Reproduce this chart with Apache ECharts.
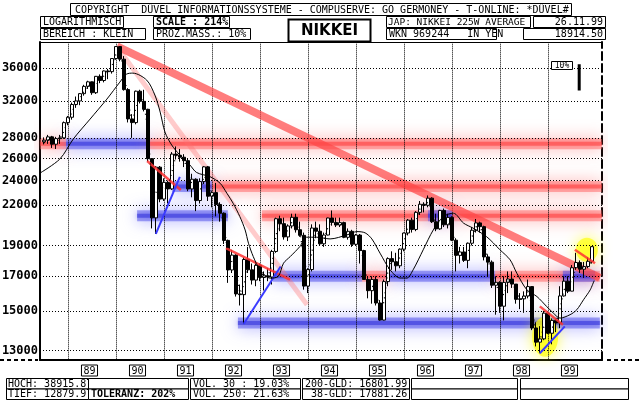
<!DOCTYPE html>
<html><head><meta charset="utf-8">
<script src="https://cdn.jsdelivr.net/npm/echarts@6.0.0/dist/echarts.min.js"></script>
<style>html,body{margin:0;padding:0;background:#fff;}#chart{width:640px;height:400px;}</style>
</head><body><div id="chart"></div>
<script>
// ---------- DATA ----------
const months = [
'1988-06','1988-07','1988-08','1988-09','1988-10','1988-11','1988-12',
'1989-01','1989-02','1989-03','1989-04','1989-05','1989-06','1989-07','1989-08','1989-09','1989-10','1989-11','1989-12',
'1990-01','1990-02','1990-03','1990-04','1990-05','1990-06','1990-07','1990-08','1990-09','1990-10','1990-11','1990-12',
'1991-01','1991-02','1991-03','1991-04','1991-05','1991-06','1991-07','1991-08','1991-09','1991-10','1991-11','1991-12',
'1992-01','1992-02','1992-03','1992-04','1992-05','1992-06','1992-07','1992-08','1992-09','1992-10','1992-11','1992-12',
'1993-01','1993-02','1993-03','1993-04','1993-05','1993-06','1993-07','1993-08','1993-09','1993-10','1993-11','1993-12',
'1994-01','1994-02','1994-03','1994-04','1994-05','1994-06','1994-07','1994-08','1994-09','1994-10','1994-11','1994-12',
'1995-01','1995-02','1995-03','1995-04','1995-05','1995-06','1995-07','1995-08','1995-09','1995-10','1995-11','1995-12',
'1996-01','1996-02','1996-03','1996-04','1996-05','1996-06','1996-07','1996-08','1996-09','1996-10','1996-11','1996-12',
'1997-01','1997-02','1997-03','1997-04','1997-05','1997-06','1997-07','1997-08','1997-09','1997-10','1997-11','1997-12',
'1998-01','1998-02','1998-03','1998-04','1998-05','1998-06','1998-07','1998-08','1998-09','1998-10','1998-11','1998-12',
'1999-01','1999-02','1999-03','1999-04','1999-05','1999-06','1999-07','1999-08','1999-09','1999-10','1999-11'
];
const opens = [
27600,27769,28101,27366,27924,28000,29579,
30159,31581,31986,32839,33713,34267,32949,34954,34431,35637,35549,37269,
38916,37189,33322,29980,29585,33131,31940,31036,25978,20984,25194,22455,
23849,23293,26409,26292,26111,25790,23291,24121,22336,23916,25222,22687,
22984,22023,21339,19346,17391,18348,15952,15910,18061,17399,16767,17684,
16925,17024,16953,18591,20919,20552,19591,20380,21027,20106,19703,16408,
17417,20229,19997,19112,19725,20974,20644,20449,20629,19564,19990,19076,
19723,18650,16807,16140,16807,15437,14517,16678,18117,17913,17655,18744,
19868,20813,20125,21407,22041,21956,22531,20693,20167,21556,20467,21020,
19361,18330,18557,18003,19151,20069,20605,20331,18229,17888,16459,16636,
15259,16628,16831,16527,15641,15671,15830,16379,14108,13406,13565,14883,
13842,14499,14368,15837,16702,16112,17530,17862,17437,17605,17943
];
const closes = [
27769,28101,27366,27924,28000,29579,30159,
31581,31986,32839,33713,34267,32949,34954,34431,35637,35549,37269,38916,
37189,33322,29980,29585,33131,31940,31036,25978,20984,25194,22455,23849,
23293,26409,26292,26111,25790,23291,24121,22336,23916,25222,22687,22984,
22023,21339,19346,17391,18348,15952,15910,18061,17399,16767,17684,16925,
17024,16953,18591,20919,20552,19591,20380,21027,20106,19703,16408,17417,
20229,19997,19112,19725,20974,20644,20449,20629,19564,19990,19076,19723,
18650,16807,16140,16807,15437,14517,16678,18117,17913,17655,18744,19868,
20813,20125,21407,22041,21956,22531,20693,20167,21556,20467,21020,19361,
18330,18557,18003,19151,20069,20605,20331,18229,17888,16459,16636,15259,
16628,16831,16527,15641,15671,15830,16379,14108,13406,13565,14883,13842,
14499,14368,15837,16702,16112,17530,17862,17437,17605,17943,18914
];
const lows = [
27350,27400,27000,26900,27400,27900,29300,
29900,31200,31500,32600,33400,32700,32800,34100,34200,34600,35300,37100,
36900,33200,29600,28000,29400,31700,30800,25700,20200,19800,22200,22300,
22100,23200,25900,25700,25200,23100,22600,21500,22100,23700,22300,21800,
21100,20700,19100,16600,17200,15800,15300,14309,17200,16500,16400,16700,
16150,16700,16500,18500,20000,19400,19300,20200,19900,19600,16200,16000,
17300,19500,19000,18900,19700,20400,20300,20300,19500,19400,18900,19000,
17800,16800,15700,15400,15300,14485,14500,16400,17400,17300,17500,18600,
19700,19900,20000,21200,21400,21800,20600,20000,20100,20300,20200,19300,
17300,17800,17900,17500,19000,19900,19900,18000,17000,16300,14800,14900,
14500,16000,16300,15400,15100,14900,15700,14000,13200,12880,13500,13800,
13300,13900,14100,15800,16000,16100,17400,17200,16900,17500,17800
];
const highs = [
28050,28300,28200,28100,28300,29700,30300,
31800,32500,32900,33900,34400,34300,35000,35200,35700,35900,37300,38960,
38960,37600,33500,30500,33200,33300,33300,31100,26000,25300,25300,24200,
24000,26600,27150,26900,26400,26000,24600,24200,24200,25300,25300,23100,
23800,22200,21400,19400,18700,18400,16500,18200,18900,17800,17900,17800,
17300,17500,18700,21000,21150,21000,20500,21300,21300,20700,19900,17500,
20500,20700,20500,19900,21000,21550,21000,21000,20700,20200,20100,19800,
19800,18700,17000,17000,17000,15600,16800,18200,18600,18500,18800,19900,
20900,21000,21500,22300,22200,22750,22600,21300,21600,21700,21300,21100,
19500,18900,18900,19200,20300,20900,20700,20400,18400,18000,17000,16700,
17000,17300,17300,16500,16000,16100,16800,16400,14400,14200,15000,14900,
14600,14600,16400,17000,17000,17700,18500,18000,17900,18200,18950
];
// 38-day average (dotted), read at month ends
const ma38 = [
27500,27800,27700,27600,27900,28700,29700,
30800,31600,32300,33100,33900,33600,33800,34600,35000,35500,36300,37900,
38200,35500,32000,29600,31200,32600,31600,28800,23500,23000,23800,23200,
23500,24800,26300,26300,26000,24600,23700,23300,23100,24400,24000,22800,
22500,21700,20400,18400,17900,17200,16000,16500,17700,17100,17200,17300,
17000,17000,17700,19700,20700,20100,20000,20700,20600,19900,18100,16900,
18600,20100,19600,19400,20300,20800,20550,20550,20100,19800,19500,19400,
19200,17800,16500,16450,16100,15000,15500,17400,18000,17800,18200,19300,
20300,20500,20700,21700,22000,22200,21600,20400,20800,21000,20700,20200,
18800,18400,18300,18500,19600,20300,20500,19300,18000,17200,16500,16000,
15900,16700,16700,16100,15650,15700,16100,15300,13800,13500,14200,14400,
14100,14400,15100,16200,16400,16800,17700,17650,17500,17750,17881
];
// 200-day average (solid)
const ma200Dates = [1988.42,1988.83,1989.11,1989.46,1989.81,1990.08,1990.22,1990.35,1990.64,1990.81,1990.92,1991.02,1991.16,1991.33,1991.54,1991.68,1991.96,1992.17,1992.31,1992.44,1992.58,1992.69,1992.76,1992.86,1993.0,1993.21,1993.38,1993.49,1993.63,1993.83,1993.97,1994.18,1994.46,1994.81,1995.02,1995.19,1995.33,1995.5,1995.71,1995.92,1996.06,1996.19,1996.4,1996.61,1996.82,1997.03,1997.24,1997.44,1997.72,1998.0,1998.21,1998.35,1998.56,1998.77,1998.97,1999.11,1999.25,1999.46,1999.6,1999.74,1999.88,1999.96];
const ma200Values = [24670,25940,27880,29960,32200,34230,35230,35360,34480,32670,30730,28590,27290,26320,25390,24710,24340,23770,22930,22120,21080,20090,19150,18250,17400,16890,16990,17820,18250,18920,19570,19570,19450,19730,19970,19880,19450,18480,17400,16890,16890,17400,18700,20090,21080,21340,20590,20220,19610,18700,18040,17190,16190,15800,15250,14890,14620,14800,15070,15620,16190,16730];

const yTicks = [13000,15000,17000,19000,22000,24000,26000,28000,32000,36000];
const yearLines = [1989,1990,1991,1992,1993,1994,1995,1996,1997,1998,1999];
const yearLabels = ['89','90','91','92','93','94','95','96','97','98','99'];

// support / resistance zones
const bandFrom  = [1988.42,1988.96,1990.71,1991.17,1992.0,1990.44,1993.04,1996.5,1993.27,1995.13,1995.67,1997.9,1999.31,1992.54];
const bandTo    = [1988.96,1990.71,2000.12,1992.0,2000.12,1992.33,2000.12,1997.0,1995.13,1995.67,1997.9,2000.08,1999.98,2000.08];
const bandLevel = [27400,27400,27400,23500,23500,21150,21150,21150,17000,17000,17000,17000,17000,14370];
const bandKind  = ['red','blue','red','blue','red','blue','red','blue','blue','red','blue','red','blue','blue'];

// trend lines [t0, v0, t1, v1]
const mainTrend  = [1990.02,38960,2000.08,16900];
const lightTrend = [1990.04,38690,1993.98,15340];
const redTrends  = [[1990.65,25760,1991.35,23200],[1992.29,18810,1993.625,16790],[1998.83,15250,1999.31,14270],[1999.56,18700,1999.98,17820]];
const blueTrends = [[1990.83,19800,1991.33,24320],[1992.66,14309,1993.43,17610],[1998.83,12880,1999.35,14190]];
const highlights = [[1998.94,13670],[1999.81,18700]];
const scaleBar = [1999.65,36520,33200];

// ---------- BUILD ----------
const toT = s => Number(s.slice(0,4)) + Number(s.slice(5,7))/12;
const candleData = months.map((m,i)=>[toT(m), opens[i], closes[i], lows[i], highs[i]]);
const ma38Data = months.map((m,i)=>[toT(m), ma38[i]]);
const ma200Data = ma200Dates.map((t,i)=>[t, ma200Values[i]]);

const X_MIN = 1988.4167, X_MAX = 2000.125, Y_MIN = 12570, Y_MAX = 39560;
const HALF_PX = 0.5/48; // keeps 1px dotted lines on a pixel column
const MONO = '"DejaVu Sans Mono", monospace';

const bandColors = {
  red: {c:'rgba(255,105,105,0.5)', s:'rgba(255,110,110,1)', core:'rgba(255,60,60,0.55)'},
  blue:{c:'rgba(85,85,235,0.52)', s:'rgba(100,100,255,1)', core:'rgba(55,55,220,0.6)'}
};
const series = [];
bandFrom.forEach((f,i)=>{
  const bc = bandColors[bandKind[i]];
  const d = [[f,bandLevel[i]],[bandTo[i],bandLevel[i]]];
  series.push({type:'line', data:d, symbol:'none', silent:true, z:1,
    lineStyle:{width:11, color:bc.c, shadowBlur:16, shadowColor:bc.s}});
  series.push({type:'line', data:d, symbol:'none', silent:true, z:1,
    lineStyle:{width:4, color:bc.core, shadowBlur:4, shadowColor:bc.core}});
});
highlights.forEach((p,i)=>{
  series.push({type:'scatter', data:[p], symbol:'circle', symbolSize: i===0?[26,40]:[22,24], silent:true, z:2,
    itemStyle:{color:'rgba(255,255,0,0.8)', shadowBlur:14, shadowColor:'rgba(255,255,0,1)'}});
});
// horizontal grid + left labels
series.push({type:'line', data:[], symbol:'none', z:3, silent:true,
  markLine:{silent:true, symbol:['none','none'], animation:false,
    lineStyle:{color:'#000', type:[1,2], width:1},
    label:{position:'start', distance:2, color:'#000', fontFamily:MONO, fontWeight:'bold', fontSize:12, formatter:p=>String(p.value)},
    data: yTicks.map(v=>({yAxis:v}))}
});
// right labels
series.push({type:'line', data:[], symbol:'none', z:3, silent:true,
  markLine:{silent:true, symbol:['none','none'], animation:false,
    lineStyle:{opacity:0},
    label:{position:'end', distance:0, color:'#000', fontFamily:MONO, fontWeight:'bold', fontSize:12, formatter:p=>String(p.value)},
    data: yTicks.map(v=>({yAxis:v}))}
});
// vertical year grid lines (one short series per year boundary)
yearLines.forEach(y=>series.push({type:'line', data:[[y+HALF_PX,12600],[y+HALF_PX,39450]], symbol:'none', silent:true, z:3, clip:false,
  lineStyle:{color:'#000', type:'dotted', width:1}}));
// trend lines
series.push({type:'line', data:[[mainTrend[0],mainTrend[1]],[mainTrend[2],mainTrend[3]]], symbol:'none', silent:true, z:4,
  lineStyle:{width:8, color:'rgba(255,70,70,0.7)'}});
series.push({type:'line', data:[[lightTrend[0],lightTrend[1]],[lightTrend[2],lightTrend[3]]], symbol:'none', silent:true, z:4,
  lineStyle:{width:5, color:'rgba(255,110,110,0.35)'}});
redTrends.forEach(r=>series.push({type:'line', data:[[r[0],r[1]],[r[2],r[3]]], symbol:'none', silent:true, z:6,
  lineStyle:{width:2.5, color:'rgba(255,50,50,0.85)'}}));
blueTrends.forEach(r=>series.push({type:'line', data:[[r[0],r[1]],[r[2],r[3]]], symbol:'none', silent:true, z:6,
  lineStyle:{width:2, color:'#3a3aff'}}));
// candles
series.push({type:'candlestick', data:candleData, barWidth:3, z:5, silent:true,
  itemStyle:{color:'#fff', color0:'#000', borderColor:'#000', borderColor0:'#000', borderWidth:1}});
// averages
series.push({type:'line', data:ma200Data, symbol:'none', smooth:0.3, silent:true, z:7,
  lineStyle:{width:1, color:'#000'}});
series.push({type:'line', data:ma38Data, symbol:'none', silent:true, z:7,
  lineStyle:{width:1.3, color:'#000', type:[1,4]}});
// 10% scale bar
series.push({type:'line', data:[[scaleBar[0],scaleBar[1]],[scaleBar[0],scaleBar[2]]], symbol:'none', silent:true, z:7,
  lineStyle:{width:3, color:'#000'}});

// header / footer boxes
const g = [];
let zc = 10;
function box(x,y,w,h,lw){ g.push({type:'rect', z:zc++, shape:{x:x,y:y,width:w,height:h}, style:{fill:'#fff', stroke:'#000', lineWidth:lw||1}}); }
function txt(x,y,s,opt){ opt=opt||{}; g.push({type:'text', z:zc++, x:x, y:y, style:{text:s, font:(opt.bold?'bold ':'')+(opt.size||10)+'px '+(opt.fam||MONO), fill:'#000', align:opt.align||'left', verticalAlign:'middle'}}); }
box(70.5,3.5,501,12); txt(75,10,'COPYRIGHT  DÜVEL INFORMATIONSSYSTEME - COMPUSERVE: GO GERMONEY - T-ONLINE: *DÜVEL#');
box(40.5,16.5,83,11); txt(43,22.5,'LOGARITHMISCH');
box(40.5,28.5,105,11); txt(43,34.5,'BEREICH : KLEIN');
box(153.5,16.5,76,11); txt(156,22.5,'SCALE : 214%',{bold:true});
box(153.5,28.5,97,11); txt(156,34.5,'PROZ.MASS.: 10%');
box(288.5,19.5,82,22,2); txt(329.5,31,'NIKKEI',{bold:true,size:15,fam:'"DejaVu Sans", sans-serif',align:'center'});
box(386.5,16.5,144,11); txt(388,22.5,'JAP: NIKKEI 225W AVERAGE',{size:9.5});
box(533.5,16.5,72,11); txt(603,22.5,'26.11.99',{align:'right'});
box(386.5,28.5,110,11); txt(389,34.5,'WKN 969244   IN YEN');
box(523.5,28.5,82,11); txt(603,34.5,'18914.50',{align:'right'});
box(551.5,61.5,21,8); txt(562,65.8,'10%',{size:8,align:'center'});
// footer
const fx = [[6,88],[88,188],[190,300],[302,409],[411,517],[520,628]];
box(6.5,378.5,82,10.5); txt(8,384,'HOCH: 38915.87');
box(6.5,389,82,10.5); txt(8,394.5,'TIEF: 12879.97');
for (let k=1;k<fx.length;k++){ box(fx[k][0]+0.5,378.5,fx[k][1]-fx[k][0],10.5); box(fx[k][0]+0.5,389,fx[k][1]-fx[k][0],10.5); }
txt(91,394.5,'TOLERANZ: 202%',{bold:true});
txt(193,384,'VOL. 30 : 19.03%'); txt(193,394.5,'VOL. 250: 21.63%');
txt(305,384,'200-GLD: 16801.99'); txt(305,394.5,' 38-GLD: 17881.26');
// dashed extensions of the bottom line
g.push({type:'line', z:zc++, shape:{x1:0,y1:360,x2:38,y2:360}, style:{stroke:'#000', lineWidth:2, lineDash:[4,3]}});
g.push({type:'line', z:zc++, shape:{x1:607,y1:360,x2:640,y2:360}, style:{stroke:'#000', lineWidth:2, lineDash:[4,3]}});

const chart = echarts.init(document.getElementById('chart'), null, {renderer:'canvas'});
chart.setOption({
  animation:false,
  backgroundColor:'#fff',
  grid:{left:40, right:38, top:42, bottom:40, containLabel:false},
  xAxis:[
    {type:'value', min:X_MIN, max:X_MAX, position:'bottom',
      axisLine:{show:true, onZero:false, lineStyle:{color:'#000', width:2}},
      axisTick:{show:false}, splitLine:{show:false},
      axisLabel:{customValues: yearLines.map(y=>y+0.448), formatter:v=>yearLabels[Math.floor(v+0.01)-1989],
        color:'#000', fontFamily:MONO, fontSize:10, borderColor:'#000', borderWidth:1, padding:[1,2,0,2], margin:5, lineHeight:10}},
    {type:'value', min:X_MIN, max:X_MAX, position:'top',
      axisLine:{show:true, onZero:false, lineStyle:{color:'#000', width:1}},
      axisTick:{show:false}, splitLine:{show:false}, axisLabel:{show:false}}
  ],
  yAxis:[
    {type:'log', min:Y_MIN, max:Y_MAX, position:'left',
      axisLine:{show:true, lineStyle:{color:'#000', width:2}}, axisTick:{show:false}, splitLine:{show:false}, axisLabel:{show:false}},
    {type:'log', min:Y_MIN, max:Y_MAX, position:'right',
      axisLine:{show:true, lineStyle:{color:'#000', width:2, type:[8,4]}}, axisTick:{show:false}, splitLine:{show:false}, axisLabel:{show:false}}
  ],
  graphic:g,
  series:series
});
</script></body></html>
